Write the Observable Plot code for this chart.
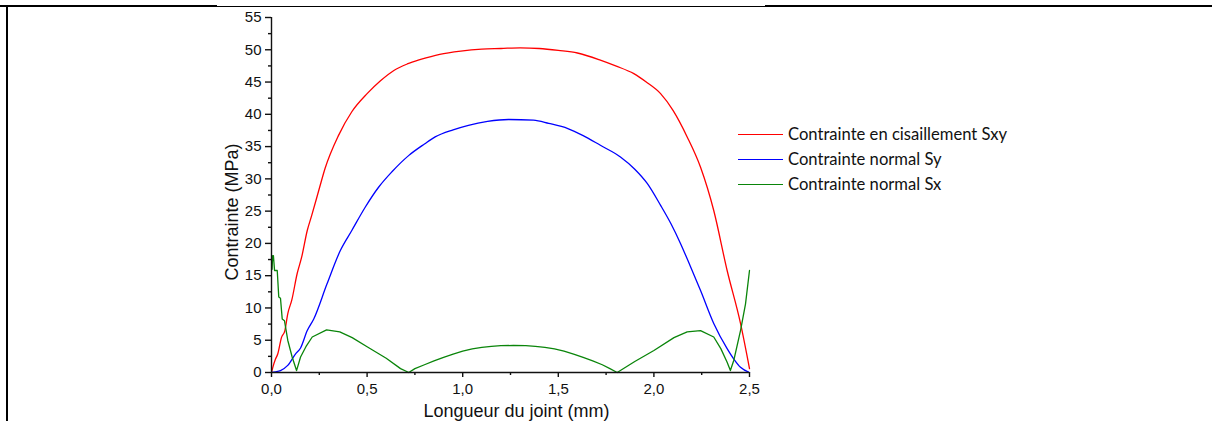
<!DOCTYPE html>
<html>
<head>
<meta charset="utf-8">
<script src="https://cdn.jsdelivr.net/npm/d3@7"></script>
<script src="https://cdn.jsdelivr.net/npm/@observablehq/plot@0.6"></script>
<style>
  html, body { margin: 0; padding: 0; background: #fff; }
  #wrap { position: relative; width: 1212px; height: 421px; overflow: hidden; }
  .bl { position: absolute; background: #000; }
  .leg { position: absolute; font-family: Lato, "Liberation Sans", sans-serif; font-size: 16.6px; color: #111; }
  .leg .ln { position: absolute; left: 0; width: 45px; height: 0; }
  .leg .tx { position: absolute; left: 50px; white-space: nowrap; transform: translateY(-50%); }
</style>
</head>
<body>
<div id="wrap">
  <div class="bl" style="left:0;top:5px;width:217px;height:2px"></div>
  <div class="bl" style="left:217px;top:6px;width:548px;height:1px"></div>
  <div class="bl" style="left:765px;top:5px;width:447px;height:2px"></div>
  <div class="bl" style="left:6px;top:5px;width:2px;height:416px"></div>
</div>
<script>
// ---- Data ----
const seriesNames = ["Contrainte en cisaillement Sxy", "Contrainte normal Sy", "Contrainte normal Sx"];
const seriesColors = ["#ff0000", "#0000ff", "#0a850a"];

const xSxy = [0, 0.007, 0.02, 0.033, 0.052, 0.07, 0.085, 0.106, 0.134, 0.158, 0.187, 0.21, 0.25, 0.28, 0.35, 0.42, 0.5, 0.57, 0.64, 0.71, 0.78, 0.88, 0.99, 1.1, 1.2, 1.3, 1.4, 1.5, 1.6, 1.72, 1.8, 1.895, 1.96, 2.035, 2.1, 2.174, 2.244, 2.313, 2.383, 2.453, 2.5];
const ySxy = [0, 0.8, 2.0, 2.9, 5.4, 6.5, 9.1, 11.2, 15.3, 17.9, 22.0, 24.3, 28.5, 31.6, 36.7, 40.4, 43.2, 45.2, 46.8, 47.8, 48.5, 49.3, 49.8, 50.1, 50.2, 50.3, 50.2, 49.9, 49.5, 48.4, 47.5, 46.3, 45.0, 43.2, 40.6, 36.5, 31.8, 25.1, 15.8, 7.6, 0.6];

const xSy = [0, 0.02, 0.047, 0.085, 0.126, 0.152, 0.187, 0.221, 0.29, 0.36, 0.42, 0.49, 0.56, 0.63, 0.717, 0.8, 0.856, 0.95, 1.03, 1.13, 1.24, 1.37, 1.45, 1.55, 1.63, 1.72, 1.825, 1.9, 1.965, 2.035, 2.09, 2.139, 2.19, 2.244, 2.313, 2.383, 2.42, 2.453, 2.5];
const ySy = [0, 0.1, 0.3, 1.1, 2.9, 3.8, 6.5, 8.3, 13.7, 18.9, 22.0, 25.6, 28.7, 31.1, 33.6, 35.4, 36.5, 37.6, 38.3, 38.9, 39.2, 39.1, 38.6, 37.8, 36.7, 35.2, 33.4, 31.5, 29.3, 25.9, 23.0, 20.0, 16.5, 12.7, 7.6, 3.7, 2.0, 0.8, 0];

const xSx = [0.003, 0.006, 0.01, 0.016, 0.03, 0.038, 0.047, 0.056, 0.068, 0.085, 0.108, 0.131, 0.152, 0.18, 0.213, 0.288, 0.357, 0.422, 0.5, 0.6, 0.675, 0.718, 0.75, 0.8, 0.85, 0.9, 0.95, 1.0, 1.05, 1.1, 1.15, 1.2, 1.265, 1.33, 1.38, 1.43, 1.48, 1.53, 1.58, 1.63, 1.68, 1.73, 1.77, 1.808, 1.9, 2.0, 2.105, 2.174, 2.244, 2.313, 2.35, 2.383, 2.40, 2.418, 2.453, 2.479, 2.5];
const ySx = [16.0, 18.1, 18.1, 15.8, 15.8, 11.7, 11.5, 8.3, 8.0, 5.0, 2.4, 0.3, 2.4, 4.0, 5.5, 6.6, 6.3, 5.4, 4.0, 2.2, 0.6, 0, 0.6, 1.2, 1.8, 2.35, 2.85, 3.3, 3.65, 3.9, 4.05, 4.15, 4.2, 4.15, 4.05, 3.9, 3.65, 3.3, 2.85, 2.35, 1.8, 1.2, 0.6, 0, 1.7, 3.4, 5.4, 6.3, 6.5, 5.5, 3.7, 1.6, 0.3, 1.9, 6.5, 10.6, 15.8];

const xMajorTicks = [0, 0.5, 1.0, 1.5, 2.0, 2.5];
const xMinorTicks = [0.25, 0.75, 1.25, 1.75, 2.25];
const yMajorTicks = [0, 5, 10, 15, 20, 25, 30, 35, 40, 45, 50, 55];
const yMinorTicks = [2.5, 7.5, 12.5, 17.5, 22.5, 27.5, 32.5, 37.5, 42.5, 47.5, 52.5];
const xLabel = "Longueur du joint (mm)";
const yLabel = "Contrainte (MPa)";

// ---- Build tables ----
const toRows = (name, xs, ys) => xs.map((x, j) => ({series: name, x, y: ys[j]}));
const rowsSxy = toRows(seriesNames[0], xSxy, ySxy);
const rowsSy = toRows(seriesNames[1], xSy, ySy);
const rowsSx = toRows(seriesNames[2], xSx, ySx);

const fmt = d => d.toFixed(1).replace(".", ",");

const chart = Plot.plot({
  width: 1212,
  height: 421,
  marginLeft: 271,
  marginRight: 463,
  marginTop: 17,
  marginBottom: 49,
  style: {fontFamily: "'Liberation Sans', Arial, sans-serif", fontSize: "15px", color: "#111", background: "transparent"},
  x: {domain: [0, 2.5]},
  y: {domain: [0, 55]},
  color: {domain: seriesNames, range: seriesColors},
  marks: [
    Plot.line(rowsSxy, {x: "x", y: "y", stroke: "series", strokeWidth: 1.3, curve: "monotone-x"}),
    Plot.line(rowsSy, {x: "x", y: "y", stroke: "series", strokeWidth: 1.3, curve: "monotone-x"}),
    Plot.line(rowsSx, {x: "x", y: "y", stroke: "series", strokeWidth: 1.3}),
    Plot.ruleX([0], {stroke: "#111", strokeWidth: 1.4}),
    Plot.ruleY([0], {stroke: "#111", strokeWidth: 1.4}),
    Plot.axisY({ticks: yMajorTicks, tickSize: 6, tickPadding: 4, tickFormat: d => String(d), label: null, stroke: "#111", strokeWidth: 1.4}),
    Plot.axisY({ticks: yMinorTicks, tickSize: 3, tickFormat: () => "", label: null, stroke: "#111", strokeWidth: 1.4}),
    Plot.axisX({ticks: xMajorTicks, tickSize: 5, tickPadding: 6, tickFormat: fmt, label: null, stroke: "#111", strokeWidth: 1.4}),
    Plot.axisX({ticks: xMinorTicks, tickSize: 3, tickFormat: () => "", label: null, stroke: "#111", strokeWidth: 1.4}),
    Plot.text([xLabel], {text: d => d, frameAnchor: "bottom", textAnchor: "middle", lineAnchor: "middle", dx: 6, dy: 39, fontSize: 18, fill: "#111"}),
    Plot.text([yLabel], {text: d => d, frameAnchor: "left", textAnchor: "middle", lineAnchor: "middle", rotate: -90, dx: -39, dy: 17, fontSize: 18, fill: "#111"})
  ]
});
chart.style.position = "absolute";
chart.style.left = "0px";
chart.style.top = "0px";
const wrap = document.getElementById("wrap");
wrap.appendChild(chart);

// ---- Legend ----
const legend = document.createElement("div");
legend.className = "leg";
legend.style.left = "738px";
legend.style.top = "0px";
const legY = [135, 160, 185];
seriesNames.forEach((name, i) => {
  const ln = document.createElement("div");
  ln.className = "ln";
  ln.style.top = (legY[i] - 0.75) + "px";
  ln.style.borderTop = "1.5px solid " + seriesColors[i];
  const tx = document.createElement("div");
  tx.className = "tx";
  tx.style.top = (legY[i] - 1) + "px";
  tx.textContent = name;
  legend.appendChild(ln);
  legend.appendChild(tx);
});
wrap.appendChild(legend);
</script>
</body>
</html>
